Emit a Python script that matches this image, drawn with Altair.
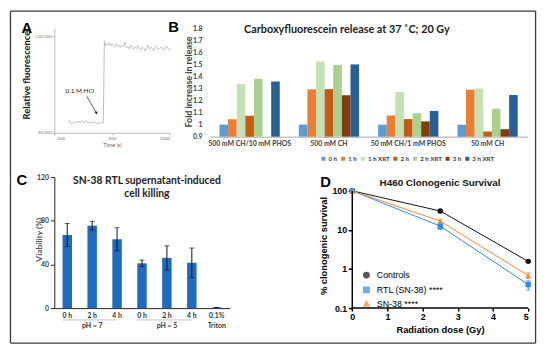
import altair as alt
import pandas as pd

# ---------------- Panel A data ----------------
a_time_pre = list(range(0, 481, 20))
a_val_pre = [68000, 66000, 65600, 66200, 66800, 66400, 67000, 66600, 66900, 67300,
             66700, 66300, 67600, 66500, 66000, 66400, 65800, 66300, 66800, 65900,
             66100, 65700, 66400, 66000, 66300]
a_time_post = [495] + list(range(500, 1421, 20))
a_val_post = [117200,
              113800, 115600, 114200, 116000, 113900, 115200, 114000, 113200, 115100, 113600,
              114400, 112800, 114100, 113500, 116300, 112900, 113400, 112200, 114600, 113000,
              111800, 113500, 112400, 114000, 112600, 111400, 113200, 112700, 110800, 112900,
              114300, 111900, 113100, 112500, 111000, 112800, 113600, 111700, 112400, 113300,
              112000, 111200, 112900, 113700, 112100, 111600, 112200]
a_x_ticks = [-200, 0, 200, 400, 600, 800, 1000, 1200, 1400]
a_y_ticks = [60000, 70000, 80000, 90000, 100000, 110000, 120000]
a_note = {"t": 155, "v": 86000, "text": "0.1 M HCl"}
a_arrow = {"t1": 251, "v1": 82600, "t2": 384, "v2": 72400}

# ---------------- Panel B data ----------------
b_groups = ["500 mM CH/10 mM PHOS", "500 mM CH", "50 mM CH/1 mM PHOS", "50 mM CH"]
b_series = ["0 h", "1 h", "1 h XRT", "2 h", "2 h XRT", "3 h", "3 h XRT"]
b_colors = ["#5B9BD5", "#ED7D31", "#C5E0B4", "#C55A11", "#A9D18E", "#843C0C", "#2A6099"]
b_values = {
    "0 h":     [1.0, 1.0, 1.0, 1.0],
    "1 h":     [1.045, 1.293, 1.076, 1.29],
    "1 h XRT": [1.338, 1.525, 1.27, 1.3],
    "2 h":     [1.073, 1.295, 1.046, 0.943],
    "2 h XRT": [1.38, 1.495, 1.095, 1.133],
    "3 h":     [None, 1.244, 1.027, 0.962],
    "3 h XRT": [1.358, 1.5, 1.114, 1.246],
}
b_yticks = [0.9, 1.0, 1.1, 1.2, 1.3, 1.4, 1.5, 1.6, 1.7, 1.8]

# ---------------- Panel C data ----------------
c_time = ["0 h", "2 h", "4 h", "0 h", "2 h", "4 h", "0.1%"]
c_group = ["pH = 7", "pH = 7", "pH = 7", "pH = 5", "pH = 5", "pH = 5", "Triton"]
c_mean = [67.0, 75.5, 63.0, 41.0, 46.0, 41.5, 0.6]
c_err = [10.5, 4.0, 10.5, 3.0, 11.0, 13.5, 0.0]
c_yticks = [0, 20, 40, 60, 80, 100, 120]

# ---------------- Panel D data ----------------
d_series = ["Controls", "RTL (SN-38) ****", "SN-38  ****"]
d_colors = ["#111111", "#2F8BEA", "#F0883A"]
d_shapes = ["circle", "square", "triangle-up"]
d_dose = [0, 2.5, 5]
d_mean = {
    "Controls": [100, 30.5, 1.57],
    "RTL (SN-38) ****": [100, 12.5, 0.40],
    "SN-38  ****": [100, 16.8, 0.68],
}
d_lo = {
    "Controls": [100, 29.0, 1.5],
    "RTL (SN-38) ****": [100, 10.3, 0.29],
    "SN-38  ****": [100, 14.8, 0.57],
}
d_hi = {
    "Controls": [100, 32.0, 1.64],
    "RTL (SN-38) ****": [100, 14.6, 0.50],
    "SN-38  ****": [100, 19.0, 0.80],
}
d_xticks = [0, 1, 2, 3, 4, 5]
d_yticks = [0.1, 1, 10, 100]

FB = "Lato"
FD = "Liberation Sans"
one = pd.DataFrame({"k": [0]})

# ================= Panel A =================
a_df = pd.DataFrame({"t": a_time_pre + a_time_post, "v": a_val_pre + a_val_post})
a_xs = alt.Scale(domain=[-200, 1400], nice=False, zero=False)
a_ys = alt.Scale(domain=[60000, 124900], nice=False, zero=False)
a_line = alt.Chart(a_df).mark_line(color="#BDBDBD", strokeWidth=1).encode(
    x=alt.X("t:Q", scale=a_xs, axis=alt.Axis(
        orient="bottom",
        values=a_x_ticks, format="d", title="Time (s)", grid=False, labelOverlap=False,
        labelFont=FB, labelFontSize=4.5, labelColor="#777777", labelPadding=1,
        tickSize=2, tickColor="#AAAAAA", domainColor="#BBBBBB",
        titleFont=FB, titleFontSize=5.5, titleFontWeight="normal", titleColor="#666666",
        titlePadding=2)),
    y=alt.Y("v:Q", scale=a_ys, axis=alt.Axis(
        orient="left",
        values=a_y_ticks, format=",d", title="Relative fluorescence", grid=False,
        labelOverlap=False,
        labelFont=FB, labelFontSize=4.5, labelColor="#777777", labelPadding=1,
        tickSize=2, tickColor="#AAAAAA", domainColor="#BBBBBB",
        titleFont=FB, titleFontSize=9.5, titleFontWeight="bold", titleColor="#111111",
        titleX=-28, titleY=47, titleBaseline="middle")),
)
a_text = alt.Chart(one).mark_text(font=FB, fontSize=6.5, color="#222222").encode(
    x=alt.datum(a_note["t"]), y=alt.datum(a_note["v"]), text=alt.value(a_note["text"]))
a_arr = alt.Chart(one).mark_rule(color="#111111", strokeWidth=0.7).encode(
    x=alt.datum(a_arrow["t1"]), y=alt.datum(a_arrow["v1"]),
    x2=alt.datum(a_arrow["t2"]), y2=alt.datum(a_arrow["v2"]))
a_head = alt.Chart(one).mark_point(shape="triangle", angle=150, size=10, filled=True,
                                   color="#111111", opacity=1).encode(
    x=alt.datum(a_arrow["t2"]), y=alt.datum(a_arrow["v2"]))


def letter(ch, x, y):
    return alt.Chart(one).mark_text(text=ch, font=FD, fontSize=15, fontWeight="bold",
                                    color="#000000", align="center", baseline="middle").encode(
        x=alt.value(x), y=alt.value(y))


a_core = alt.layer(a_line, a_text, a_arr, a_head, letter("A", -28, 0))

# Outer frame of the whole figure, drawn as axis domain lines of two helper layers
# (pixel ranges measured from panel A's plot origin at page 55/26).
FR_L, FR_R, FR_T, FR_B = -45, 488, -18, 319
A_W, A_H = 117, 106
fr_axis = dict(ticks=False, labels=False, title=None, grid=False,
               domainColor="#3A3A3A", domainWidth=1.3)
fr_xs = alt.Scale(domain=[0, 1], range=[FR_L, FR_R], nice=False, zero=False)
fr_ys = alt.Scale(domain=[0, 1], range=[FR_B, FR_T], nice=False, zero=False)
frame1 = alt.Chart(one).mark_point(opacity=0).encode(
    x=alt.X("k:Q", scale=fr_xs, axis=alt.Axis(orient="top", offset=-FR_T, **fr_axis)),
    y=alt.Y("k:Q", scale=fr_ys, axis=alt.Axis(orient="right", offset=FR_R - A_W, **fr_axis)))
frame2 = alt.Chart(one).mark_point(opacity=0).encode(
    x=alt.X("k:Q", scale=fr_xs, axis=alt.Axis(orient="bottom", offset=FR_B - A_H, **fr_axis)),
    y=alt.Y("k:Q", scale=fr_ys, axis=alt.Axis(orient="left", offset=-FR_L, **fr_axis)))

panel_a = alt.layer(a_core, frame1, frame2).resolve_scale(
    x="independent", y="independent").properties(width=A_W, height=A_H)

# ================= Panel B =================
b_rows = []
for s in b_series:
    for gi, g in enumerate(b_groups):
        v = b_values[s][gi]
        if v is not None:
            b_rows.append({"group": g, "series": s, "value": v})
b_df = pd.DataFrame(b_rows)

b_bars = alt.Chart(b_df).mark_bar().encode(
    x=alt.X("group:N", sort=b_groups,
            scale=alt.Scale(domain=b_groups, paddingInner=0.24, paddingOuter=0.12),
            axis=alt.Axis(title=None, labelAngle=0, labelFont=FB, labelFontSize=7,
                          labelFontWeight="bold", labelColor="#404040", ticks=False,
                          domainColor="#A6A6A6", labelPadding=3)),
    xOffset=alt.XOffset("series:N", sort=b_series,
                        scale=alt.Scale(domain=b_series, paddingInner=0, paddingOuter=0)),
    y=alt.Y("value:Q", scale=alt.Scale(domain=[0.9, 1.8], nice=False, zero=False),
            axis=alt.Axis(values=b_yticks, format=".1~f", title="Fold increase in release",
                          grid=False, domain=False, ticks=False, labelPadding=8,
                          labelFont=FB, labelFontSize=7, labelFontWeight="bold",
                          labelColor="#404040", titleFont=FB, titleFontSize=9,
                          titleFontWeight="bold", titleColor="#404040",
                          titleX=-22, titleY=54, titleBaseline="middle")),
    y2=alt.datum(0.9),
    color=alt.Color("series:N", sort=b_series,
                    scale=alt.Scale(domain=b_series, range=b_colors),
                    legend=alt.Legend(orient="none", legendX=112, legendY=129,
                                      direction="horizontal", columns=7, title=None,
                                      symbolType="square", symbolSize=16,
                                      symbolStrokeWidth=0, labelFont=FB,
                                      labelFontSize=6.3, labelFontWeight="bold",
                                      labelColor="#404040", columnPadding=2,
                                      labelOffset=2)),
)
panel_b = alt.layer(b_bars, letter("B", -37, -1)).properties(
    width=322, height=110,
    title=alt.TitleParams(text="Carboxyfluorescein release at 37 ˚C; 20 Gy", font=FB,
                          fontSize=11, fontWeight="bold", color="#222222", anchor="middle",
                          frame="group", baseline="bottom", offset=0, dx=-22, dy=26))

# ================= Panel C =================
c_ids = [g + "|" + t for g, t in zip(c_group, c_time)]
c_df = pd.DataFrame({"id": c_ids, "mean": c_mean,
                     "lo": [m - e for m, e in zip(c_mean, c_err)],
                     "hi": [m + e for m, e in zip(c_mean, c_err)]})
c_label_expr = ("split(datum.value,'|')[1] == '2 h' || split(datum.value,'|')[0] == 'Triton'"
                " ? [split(datum.value,'|')[1], split(datum.value,'|')[0]]"
                " : split(datum.value,'|')[1]")
c_x = alt.X("id:N", sort=c_ids,
            scale=alt.Scale(domain=c_ids, range=[0, 178], paddingInner=0.62, paddingOuter=0.33),
            axis=alt.Axis(title=None, labelAngle=0, labelExpr=c_label_expr, labelFont=FB,
                          labelFontSize=7, labelFontWeight="bold", labelColor="#333333",
                          labelLineHeight=10, ticks=False, domainColor="#222222",
                          labelPadding=4))
c_ys = alt.Scale(domain=[0, 120], nice=False)
c_bars = alt.Chart(c_df).mark_bar(color="#1F6BC0").encode(
    x=c_x,
    y=alt.Y("mean:Q", scale=c_ys,
            axis=alt.Axis(values=c_yticks, title="Viability (%)", grid=False,
                          labelFont=FB, labelFontSize=7, labelFontWeight="bold",
                          labelColor="#404040", labelPadding=2, tickSize=4,
                          tickColor="#222222", domainColor="#222222",
                          titleFont=FB, titleFontSize=8.5, titleFontWeight="bold",
                          titleColor="#555555", titleX=-16, titleY=63,
                          titleBaseline="middle")),
)
c_rule = alt.Chart(c_df).mark_rule(color="#111111", strokeWidth=1).encode(
    x=alt.X("id:N", sort=c_ids), y="lo:Q", y2="hi:Q")
c_cap_lo = alt.Chart(c_df).mark_tick(color="#111111", thickness=1, size=5).encode(
    x=alt.X("id:N", sort=c_ids), y="lo:Q")
c_cap_hi = alt.Chart(c_df).mark_tick(color="#111111", thickness=1, size=5).encode(
    x=alt.X("id:N", sort=c_ids), y="hi:Q")
c_under_df = pd.DataFrame({"from": [c_ids[0], c_ids[3]], "to": [c_ids[2], c_ids[5]]})
c_under = alt.Chart(c_under_df).mark_rule(color="#999999", strokeWidth=0.6).encode(
    x=alt.X("from:N", sort=c_ids, bandPosition=0), x2="to:N", y=alt.value(145))
panel_c = alt.layer(c_bars, c_rule, c_cap_lo, c_cap_hi, c_under,
                    letter("C", -33, 3)).properties(
    width=158, height=133,
    title=alt.TitleParams(text=["SN-38 RTL supernatant-induced", "cell killing"], font=FB,
                          fontSize=10.5, fontWeight="bold", color="#222222", anchor="middle",
                          frame="group", baseline="bottom", offset=0, lineHeight=13,
                          dx=15, dy=36.5))

# ================= Panel D =================
D_W = 323
D_X0 = 144.3  # pixel position of dose 0 inside panel D
d_rows = []
for s in d_series:
    for i, x in enumerate(d_dose):
        d_rows.append({"series": s, "dose": x, "val": d_mean[s][i],
                       "lo": d_lo[s][i], "hi": d_hi[s][i]})
d_df = pd.DataFrame(d_rows)
d_xs = alt.Scale(domain=[-4.044, 5], nice=False, zero=False)
d_ys = alt.Scale(type="log", domain=[0.1, 225.4], nice=False)
d_x = alt.X("dose:Q", scale=d_xs,
            axis=alt.Axis(values=d_xticks, format="d", title="Radiation dose (Gy)", grid=False,
                          domain=False,
                          labelFont=FD, labelFontSize=9, labelFontWeight="bold",
                          labelColor="#000000", labelPadding=2, tickSize=3, tickWidth=1.5,
                          tickColor="#000000",
                          titleFont=FD, titleFontSize=9.5, titleFontWeight="bold",
                          titleColor="#000000", titleX=233.5, titleY=22,
                          titleBaseline="middle"))
d_y = alt.Y("val:Q", scale=d_ys,
            axis=alt.Axis(values=d_yticks, format="~g", title="% clonogenic survival",
                          grid=False, domain=False, offset=-D_X0, labelFont=FD,
                          labelFontSize=9,
                          labelFontWeight="bold", labelColor="#000000", labelPadding=1.5,
                          tickSize=4, tickWidth=1.5, tickColor="#000000",
                          titleFont=FD, titleFontSize=9.5, titleFontWeight="bold",
                          titleColor="#000000", titleX=-29, titleY=69.5,
                          titleBaseline="middle"))
d_leg = alt.Legend(orient="none", legendX=D_X0 + 10, legendY=95, title=None,
                   labelFont=FD, labelFontSize=9, labelColor="#000000",
                   symbolSize=30, rowPadding=2, labelOffset=6)
d_cscale = alt.Scale(domain=d_series, range=d_colors)
d_sscale = alt.Scale(domain=d_series, range=d_shapes)
d_color = alt.Color("series:N", sort=d_series, scale=d_cscale, legend=d_leg)
d_shape = alt.Shape("series:N", sort=d_series, scale=d_sscale, legend=d_leg)
d_lines = alt.Chart(d_df).mark_line(strokeWidth=1).encode(
    x=d_x, y=d_y, color=d_color)
d_err = alt.Chart(d_df).mark_rule(strokeWidth=1).encode(
    x=alt.X("dose:Q"), y=alt.Y("lo:Q"), y2="hi:Q", color=d_color)
d_cap_lo = alt.Chart(d_df).mark_tick(orient="horizontal", thickness=1, size=5).encode(
    x=alt.X("dose:Q"), y=alt.Y("lo:Q"), color=d_color)
d_cap_hi = alt.Chart(d_df).mark_tick(orient="horizontal", thickness=1, size=5).encode(
    x=alt.X("dose:Q"), y=alt.Y("hi:Q"), color=d_color)
d_pts = alt.Chart(d_df).mark_point(filled=True, size=30, opacity=1).encode(
    x=d_x, y=d_y, color=d_color, shape=d_shape)
d_yaxis = alt.Chart(one).mark_rule(color="#000000", strokeWidth=1.5).encode(
    x=alt.datum(0), y=alt.datum(0.1), y2=alt.datum(100))
d_xaxis = alt.Chart(one).mark_rule(color="#000000", strokeWidth=1.5).encode(
    x=alt.datum(0), x2=alt.datum(5), y=alt.datum(0.1))

panel_d = alt.layer(d_lines, d_err, d_cap_lo, d_cap_hi, d_pts, d_yaxis, d_xaxis,
                    letter("D", D_X0 - 27, 5)).properties(
    width=D_W, height=133,
    title=alt.TitleParams(text="H460 Clonogenic Survival", font=FD, fontSize=10,
                          fontWeight="bold", color="#111111", anchor="middle",
                          frame="group", baseline="bottom", offset=0, dx=72, dy=23.5))

chart = alt.concat(panel_a, panel_b, panel_c, panel_d, columns=2,
                   spacing=alt.RowColnumber(row=41, column=0),
                   bounds="flush", align="each").resolve_scale(
    color="independent", shape="independent").resolve_legend(
    color="independent", shape="independent").properties(
    autosize=alt.AutoSizeParams(type="none"),
    padding={"left": 47, "top": 18, "right": 495, "bottom": 329},
    background="white").configure_view(strokeWidth=0)

chart.save("out.html", embed_options={"renderer": "svg", "actions": False})
